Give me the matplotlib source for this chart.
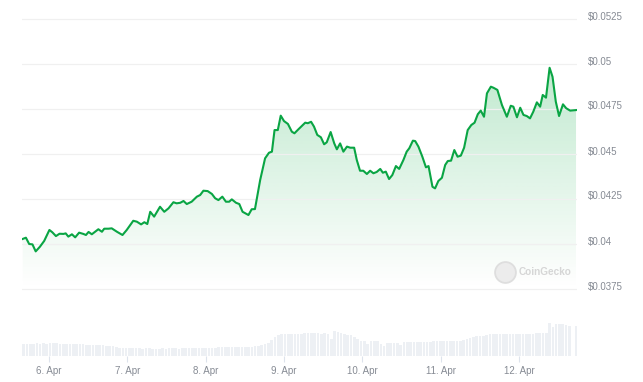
import matplotlib
matplotlib.use("Agg")
import matplotlib.pyplot as plt
import matplotlib.transforms as mtransforms
import numpy as np

plt.rcParams['font.family'] = ['Liberation Sans', 'DejaVu Sans']

# hours since 6 Apr 00:00 and price in USD
hours = [-8.1, -7.1, -6.1, -5.1, -4.1, -2.8, -1.5, 0.1, 1.0, 2.1,
         3.2, 4.4, 5.1, 5.9, 7.0, 8.0, 9.2, 10.5, 11.3, 12.1,
         13.1, 15.1, 16.2, 16.9, 18.2, 19.2, 20.8, 22.5, 23.8, 25.8,
         26.9, 28.2, 29.2, 30.1, 31.0, 32.2, 34.0, 35.3, 36.6, 38.1,
         39.1, 40.2, 41.2, 42.2, 43.7, 45.3, 46.3, 47.3, 48.6, 49.9,
         50.9, 51.9, 53.1, 54.2, 55.2, 56.0, 57.3, 58.3, 59.3, 60.1,
         61.1, 62.1, 63.1, 64.7, 66.2, 67.4, 68.3, 69.1, 70.1, 71.0,
         72.0, 73.2, 74.4, 75.2, 76.4, 78.5, 79.3, 80.3, 81.2, 82.2,
         83.3, 84.3, 85.1, 86.3, 87.4, 88.2, 89.2, 90.2, 91.3, 92.3,
         93.5, 94.3, 95.3, 96.3, 97.4, 98.4, 99.4, 100.4, 101.5, 102.3,
         103.2, 104.2, 105.2, 106.3, 107.3, 108.6, 109.6, 110.4, 111.5, 112.2,
         113.2, 114.4, 115.5, 116.3, 117.5, 118.3, 119.3, 120.4, 121.4, 122.2,
         123.2, 124.2, 125.2, 126.2, 127.2, 128.3, 129.4, 130.4, 131.4, 132.3,
         133.3, 134.2, 135.4, 136.2, 137.4, 138.8, 140.3, 141.5, 142.3, 143.4,
         144.4, 145.4, 146.4, 147.4, 148.4, 149.5, 150.5, 151.3, 152.3, 153.4,
         154.3, 155.3, 156.3, 157.5, 158.5, 159.7, 161.5]
price = [0.04028, 0.04035, 0.04000, 0.03998, 0.03959, 0.03985, 0.04017, 0.04078, 0.04065, 0.04044,
         0.04057, 0.04056, 0.04059, 0.04041, 0.04054, 0.04037, 0.04063, 0.04056, 0.04050, 0.04067,
         0.04054, 0.04082, 0.04068, 0.04085, 0.04085, 0.04087, 0.04068, 0.04050, 0.04078, 0.04129,
         0.04124, 0.04109, 0.04121, 0.04111, 0.04179, 0.04152, 0.04207, 0.04179, 0.04198, 0.04232,
         0.04226, 0.04229, 0.04239, 0.04222, 0.04235, 0.04263, 0.04272, 0.04296, 0.04294, 0.04278,
         0.04254, 0.04244, 0.04263, 0.04235, 0.04235, 0.04248, 0.04229, 0.04222, 0.04179, 0.04171,
         0.04161, 0.04193, 0.04194, 0.04356, 0.04476, 0.04507, 0.04513, 0.04633, 0.04633, 0.04713,
         0.04683, 0.04667, 0.04624, 0.04615, 0.04637, 0.04674, 0.04671, 0.04679, 0.04652, 0.04606,
         0.04593, 0.04554, 0.04565, 0.04622, 0.04559, 0.04526, 0.04559, 0.04513, 0.04541, 0.04535,
         0.04535, 0.04467, 0.04407, 0.04407, 0.04389, 0.04407, 0.04393, 0.04400, 0.04417, 0.04396,
         0.04402, 0.04361, 0.04383, 0.04433, 0.04417, 0.04467, 0.04513, 0.04532, 0.04574, 0.04572,
         0.04541, 0.04485, 0.04426, 0.04433, 0.04318, 0.04309, 0.04350, 0.04368, 0.04439, 0.04461,
         0.04463, 0.04522, 0.04485, 0.04491, 0.04535, 0.04633, 0.04661, 0.04674, 0.04721, 0.04741,
         0.04707, 0.04837, 0.04874, 0.04868, 0.04856, 0.04772, 0.04707, 0.04768, 0.04763, 0.04704,
         0.04757, 0.04717, 0.04711, 0.04698, 0.04735, 0.04787, 0.04763, 0.04828, 0.04813, 0.04979,
         0.04929, 0.04791, 0.04711, 0.04776, 0.04754, 0.04741, 0.04744]

# hourly volume (arbitrary units)
volume = [12.0, 12.0, 12.3, 12.3, 12.7, 12.3, 12.7, 12.3, 12.7, 12.7,
          12.7, 12.3, 12.3, 12.3, 12.3, 12.3, 12.3, 12.3, 12.3, 11.0,
          11.0, 11.3, 10.7, 11.0, 10.7, 10.3, 10.0, 9.7, 9.3, 8.3,
          7.7, 7.7, 7.7, 7.7, 7.7, 7.7, 7.3, 7.7, 7.7, 7.3,
          7.3, 7.3, 7.7, 7.0, 7.7, 7.7, 7.7, 7.3, 7.7, 8.0,
          8.0, 8.0, 8.0, 8.0, 8.0, 8.3, 8.3, 8.3, 8.3, 8.7,
          8.7, 8.7, 8.7, 9.0, 9.0, 9.0, 9.0, 9.3, 9.3, 9.3,
          9.7, 10.3, 11.0, 12.0, 13.3, 16.0, 18.7, 20.7, 21.7, 21.7,
          21.7, 21.7, 21.7, 21.7, 22.0, 22.7, 22.7, 22.7, 22.7, 23.0,
          22.3, 22.7, 22.3, 17.3, 24.7, 23.7, 23.3, 21.7, 21.3, 20.7,
          19.0, 16.7, 15.0, 15.0, 12.3, 14.7, 14.7, 14.7, 11.7, 9.7,
          13.3, 13.3, 13.0, 13.0, 10.7, 14.0, 14.0, 14.0, 14.0, 14.0,
          14.0, 14.0, 14.0, 14.3, 14.7, 14.7, 14.7, 14.7, 14.7, 14.7,
          14.7, 15.0, 15.3, 16.0, 16.7, 18.0, 18.7, 19.7, 20.0, 20.3,
          21.0, 21.7, 22.0, 22.0, 22.0, 22.0, 21.7, 22.0, 22.3, 22.3,
          22.3, 22.0, 22.0, 22.0, 22.3, 22.7, 22.7, 22.7, 22.7, 33.0,
          29.0, 32.3, 31.7, 32.3, 30.7, 30.0, 0.0, 29.7]

day_ticks = [0, 24, 48, 72, 96, 120, 144]
day_labels = ['6. Apr', '7. Apr', '8. Apr', '9. Apr', '10. Apr', '11. Apr', '12. Apr']
price_ticks = [0.0375, 0.04, 0.0425, 0.045, 0.0475, 0.05, 0.0525]

W, H = 643, 382
fig = plt.figure(figsize=(W / 100, H / 100), dpi=100)

green = '#0aa544'
grid_c = '#f0f0f0'
label_c = '#868b94'
x0, x1 = -8.3, 161.8

# price panel
ax = fig.add_axes([22 / W, (H - 290.8) / H, 555 / W, 273.6 / H])
poly = ax.fill_between(hours, price, 0.0375, facecolor='none', edgecolor='none')
grad = np.zeros((256, 1, 4))
grad[:, 0, :3] = np.array([0, 168, 62]) / 255
grad[:, 0, 3] = np.linspace(0.3, 0.0, 256)
im = ax.imshow(grad, extent=[x0, x1, 0.0375, 0.0525], aspect='auto',
               origin='upper', zorder=1)
im.set_clip_path(poly.get_paths()[0], ax.transData)
ax.plot(hours, price, color=green, lw=1.5, zorder=3, solid_joinstyle='round')

ax.set_xlim(x0, x1)
ax.set_ylim(0.0374, 0.0526)
ax.set_yticks(price_ticks)
ax.set_yticklabels(['$' + ('%.4f' % v).rstrip('0') for v in price_ticks])
ax.yaxis.tick_right()
ax.tick_params(axis='y', length=0, pad=8, labelsize=7, labelcolor=label_c)
offset = mtransforms.ScaledTranslation(0, 3.5 / 100, fig.dpi_scale_trans)
for lab in ax.get_yticklabels():
    lab.set_transform(lab.get_transform() + offset)
ax.set_xticks([])
ax.grid(axis='y', color=grid_c, lw=0.9, zorder=0)
for s in ax.spines.values():
    s.set_visible(False)

# watermark
ax.plot([0.870], [0.068], transform=ax.transAxes, marker='o', markersize=15,
        markerfacecolor='#ececec', markeredgecolor='#dedede', markeredgewidth=1.3, zorder=2)
ax.text(0.8955, 0.068, 'CoinGecko', transform=ax.transAxes, ha='left', va='center',
        fontsize=7.2, fontweight='bold', color='#d6d6d6', zorder=2)

# volume panel
vax = fig.add_axes([22 / W, (H - 356) / H, 555 / W, 40 / H])
vx = np.linspace(-7.8, 161.5, len(volume))
vax.bar(vx, volume, width=0.8 * (vx[1] - vx[0]), color='#edf0f4', zorder=1)
vax.set_xlim(x0, x1)
vax.set_ylim(0, 40)
vax.set_yticks([])
vax.set_xticks(day_ticks)
vax.set_xticklabels(day_labels)
vax.tick_params(axis='x', length=4, width=0.8, color='#dde3ec', pad=3,
                labelsize=7, labelcolor=label_c)
for s in vax.spines.values():
    s.set_visible(False)

fig.savefig('out.png', dpi=100)
